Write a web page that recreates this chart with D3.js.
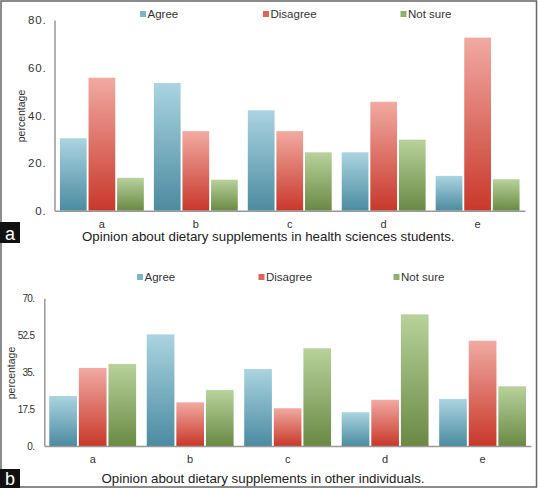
<!DOCTYPE html>
<html>
<head>
<meta charset="utf-8">
<script src="https://cdn.jsdelivr.net/npm/d3@7"></script>
<style>
html,body{margin:0;padding:0;background:#fff;}
svg{display:block;font-family:"Liberation Sans",Arial,sans-serif;}
</style>
</head>
<body>
<svg id="chart" width="538" height="489"></svg>
<script>
const categories = ["a","b","c","d","e"];
const seriesNames = ["Agree","Disagree","Not sure"];
const agreeA = [30.4, 53.6, 42.1, 24.5, 14.6];
const disagreeA = [55.8, 33.4, 33.4, 45.7, 72.6];
const notSureA = [13.8, 13.0, 24.5, 29.8, 13.2];
const agreeB = [23.7, 52.9, 36.5, 16.0, 22.3];
const disagreeB = [37.0, 20.7, 17.9, 21.9, 49.9];
const notSureB = [38.9, 26.5, 46.3, 62.4, 28.3];
const ticksA = [0, 20, 40, 60, 80];
const tickLabelsA = ["0.", "20.", "40.", "60.", "80."];
const ticksB = [0, 17.5, 35, 52.5, 70];
const tickLabelsB = ["0.", "17.5", "35.", "52.5", "70."];
const titleA = "Opinion about dietary supplements in health sciences students.";
const titleB = "Opinion about dietary supplements in other individuals.";

const svg = d3.select("#chart");
const defs = svg.append("defs");
const grads = [["#abd4e0","#4b8ba1"],["#f1aaa2","#c8382a"],["#b8d29b","#6a8944"]];
grads.forEach((g,i)=>{
  const lg = defs.append("linearGradient").attr("id","g"+i).attr("x1",0).attr("y1",0).attr("x2",0).attr("y2",1);
  lg.append("stop").attr("offset","0%").attr("stop-color",g[0]);
  lg.append("stop").attr("offset","100%").attr("stop-color",g[1]);
});
const swatchCol = ["#7fb3c6","#e0645a","#8fb071"];

// outer border
svg.append("rect").attr("x",1).attr("y",1).attr("width",535.5).attr("height",486)
  .attr("fill","none").attr("stroke","#666").attr("stroke-width",1.5);

function panel(o){
  const values = [o.agree,o.disagree,o.notSure];
  const x0 = d3.scaleBand().domain(categories).range([o.left,o.right])
    .paddingInner(o.pi).paddingOuter(o.po);
  const x1 = d3.scaleBand().domain(seriesNames).range([0,x0.bandwidth()]).paddingInner(0.065);
  const y = d3.scaleLinear().domain([0,o.max]).range([o.bottom,o.top]);
  const g = svg.append("g");
  // bars
  seriesNames.forEach((s,si)=>{
    g.selectAll(null).data(values[si]).enter().append("rect")
      .attr("x",(d,i)=>x0(categories[i])+x1(s))
      .attr("y",d=>y(d))
      .attr("width",x1.bandwidth())
      .attr("height",d=>y(0)-y(d))
      .attr("fill","url(#g"+si+")");
  });
  // y axis
  const ya = d3.axisLeft(y).tickValues(o.ticks).tickSize(0).tickPadding(o.tickPad)
    .tickFormat((d,i)=>o.tickLabels[i]);
  const yg = g.append("g").attr("transform",`translate(${o.left},0)`).call(ya);
  yg.select(".domain").attr("stroke","#999").attr("stroke-width",1.5);
  yg.selectAll("text").attr("font-size",o.tickFont).attr("letter-spacing",o.tickLS).attr("fill","#333")
    .attr("font-family","Liberation Sans, Arial, sans-serif");
  // x baseline
  const xa = d3.axisBottom(x0).tickSize(0).tickPadding(o.catPad);
  const xg = g.append("g").attr("transform",`translate(0,${o.bottom})`).call(xa);
  xg.select(".domain").attr("stroke","#999").attr("stroke-width",1.5);
  xg.selectAll("text").attr("font-size",11).attr("fill","#333").attr("font-family","Liberation Sans, Arial, sans-serif");
  // y title
  g.append("text").attr("transform",`translate(${o.yTitleX},${o.yTitleY}) rotate(-90)`)
    .attr("text-anchor","middle").attr("font-size",10.5).attr("fill","#333").text("percentage");
  // legend
  seriesNames.forEach((s,si)=>{
    g.append("rect").attr("x",o.legX[si]).attr("y",o.legY-3).attr("width",6).attr("height",6).attr("fill",swatchCol[si]);
    g.append("text").attr("x",o.legX[si]+7.5).attr("y",o.legY+4).attr("font-size",11.5).attr("fill","#333").text(s);
  });
  // title
  g.append("text").attr("x",o.titleX).attr("y",o.titleY).attr("font-size",13.3).attr("fill","#222").text(o.title);
  // panel letter
  g.append("rect").attr("x",0).attr("y",o.boxY).attr("width",20).attr("height",o.boxH).attr("fill","#111");
  g.append("text").attr("x",10).attr("y",o.boxY+o.boxH-3.5).attr("text-anchor","middle")
    .attr("font-size",18).attr("fill","#fff").text(o.letter);
}

panel({agree:agreeA,disagree:disagreeA,notSure:notSureA,max:80,ticks:ticksA,tickLabels:tickLabelsA,
  left:54.5,right:525,top:20,bottom:210.7,pi:0.107,po:0.058,tickPad:8,tickFont:11.5,tickLS:0.8,catPad:10,
  yTitleX:25,yTitleY:116,
  legX:[140,263,400.5],legY:14,title:titleA,titleX:82,titleY:241,boxY:222,boxH:21,letter:"a"});
panel({agree:agreeB,disagree:disagreeB,notSure:notSureB,max:70,ticks:ticksB,tickLabels:tickLabelsB,
  left:44.3,right:531,top:298.3,bottom:446,pi:0.109,po:0.051,tickPad:10,tickFont:10,tickLS:-0.7,catPad:9,
  yTitleX:15,yTitleY:373,
  legX:[137,258.5,393.5],legY:277,title:titleB,titleX:101.5,titleY:483,boxY:469,boxH:19,letter:"b"});
</script>
</body>
</html>
